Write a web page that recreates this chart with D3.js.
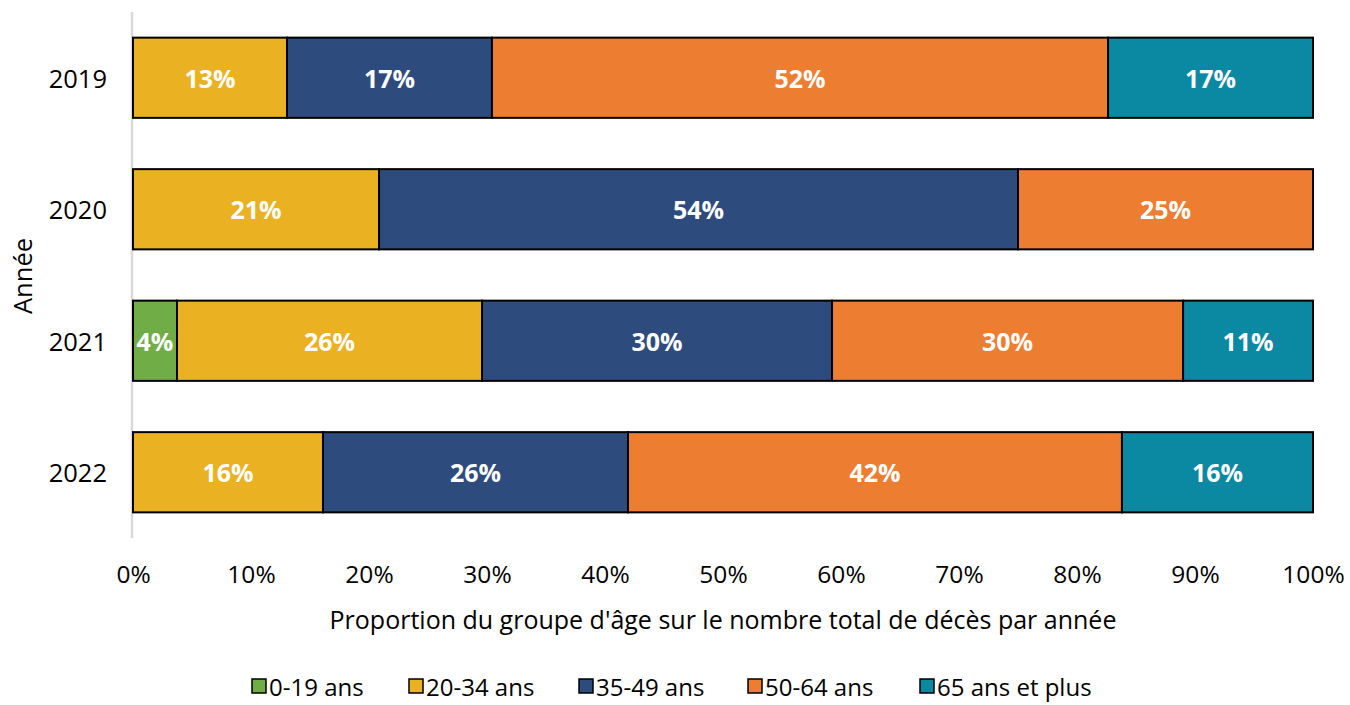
<!DOCTYPE html>
<html><head><meta charset="utf-8">
<script src="https://cdn.jsdelivr.net/npm/d3@7"></script>
<style>body{margin:0;background:#fff}svg{display:block}text{font-family:"Open Sans",sans-serif}</style>
</head><body><svg id="c" width="1350" height="705"></svg>
<script>
const years = ["2019","2020","2021","2022"];
const groups = ["0-19 ans","20-34 ans","35-49 ans","50-64 ans","65 ans et plus"];
const colors = ["#70ad47","#eab223","#2e4b7e","#ed7d31","#0b88a2"];
const v0_19  = [0, 0, 3.73, 0];
const v20_34 = [13.05, 20.85, 25.85, 16.10];
const v35_49 = [17.37, 54.15, 29.66, 25.85];
const v50_64 = [52.21, 25.00, 29.75, 41.86];
const v65    = [17.37, 0, 11.01, 16.19];
const xTicks = [0,10,20,30,40,50,60,70,80,90,100];

const series = [v0_19, v20_34, v35_49, v50_64, v65];
const rows = years.map((y,i)=>{const r={year:y}; groups.forEach((g,j)=>r[g]=series[j][i]); return r;});
const stack = d3.stack().keys(groups)(rows);

const svg = d3.select("#c");
const x = d3.scaleLinear().domain([0,100]).range([133,1313]);
const y = d3.scaleBand().domain(years).range([12,538]).paddingInner(0.39).paddingOuter(0.195);

svg.append("line").attr("x1",132).attr("x2",132).attr("y1",12).attr("y2",538)
  .attr("stroke","#d9d9d9").attr("stroke-width",2.5);

const layer = svg.append("g").selectAll("g").data(stack).join("g").attr("fill",(d,i)=>colors[i]);
layer.selectAll("rect").data(d=>d.filter(s=>s[1]-s[0]>0)).join("rect")
  .attr("x",d=>x(d[0])).attr("y",d=>y(d.data.year))
  .attr("width",d=>x(d[1])-x(d[0])).attr("height",y.bandwidth())
  .attr("stroke","#000").attr("stroke-width",2);
layer.selectAll("text").data(d=>d.filter(s=>s[1]-s[0]>0)).join("text")
  .attr("x",d=>(x(d[0])+x(d[1]))/2).attr("y",d=>y(d.data.year)+y.bandwidth()/2)
  .attr("text-anchor","middle").attr("dominant-baseline","central")
  .attr("fill","#fff").attr("font-weight","bold").attr("font-size",25)
  .text(d=>Math.round(d[1]-d[0])+"%");

svg.append("g").selectAll("text").data(years).join("text")
  .attr("x",107).attr("y",d=>y(d)+y.bandwidth()/2).attr("text-anchor","end")
  .attr("dominant-baseline","central").attr("font-size",25.5).attr("fill","#000").text(d=>d);

const xa = svg.append("g").attr("transform","translate(0,563)")
  .call(d3.axisBottom(x).tickValues(xTicks).tickFormat(d=>d+"%").tickSize(0));
xa.select(".domain").remove();
xa.selectAll("text").attr("font-size",24.5).attr("fill","#000").attr("font-family","Open Sans");

svg.append("text").attr("x",723).attr("y",619).attr("text-anchor","middle")
  .attr("dominant-baseline","central").attr("font-size",25).attr("fill","#000")
  .text("Proportion du groupe d'âge sur le nombre total de décès par année");
svg.append("text").attr("transform","translate(22,276) rotate(-90)").attr("text-anchor","middle")
  .attr("dominant-baseline","central").attr("font-size",25.5).attr("fill","#000").text("Année");

const legX = [252,409,579,748,920];
const lg = svg.append("g").selectAll("g").data(groups).join("g")
  .attr("transform",(d,i)=>`translate(${legX[i]},686)`);
lg.append("rect").attr("x",0).attr("y",-7).attr("width",14).attr("height",14)
  .attr("fill",(d,i)=>colors[i]).attr("stroke","#000").attr("stroke-width",1.5);
lg.append("text").attr("x",17).attr("y",0).attr("dominant-baseline","central")
  .attr("font-size",24).attr("fill","#000").text(d=>d);
</script></body></html>
